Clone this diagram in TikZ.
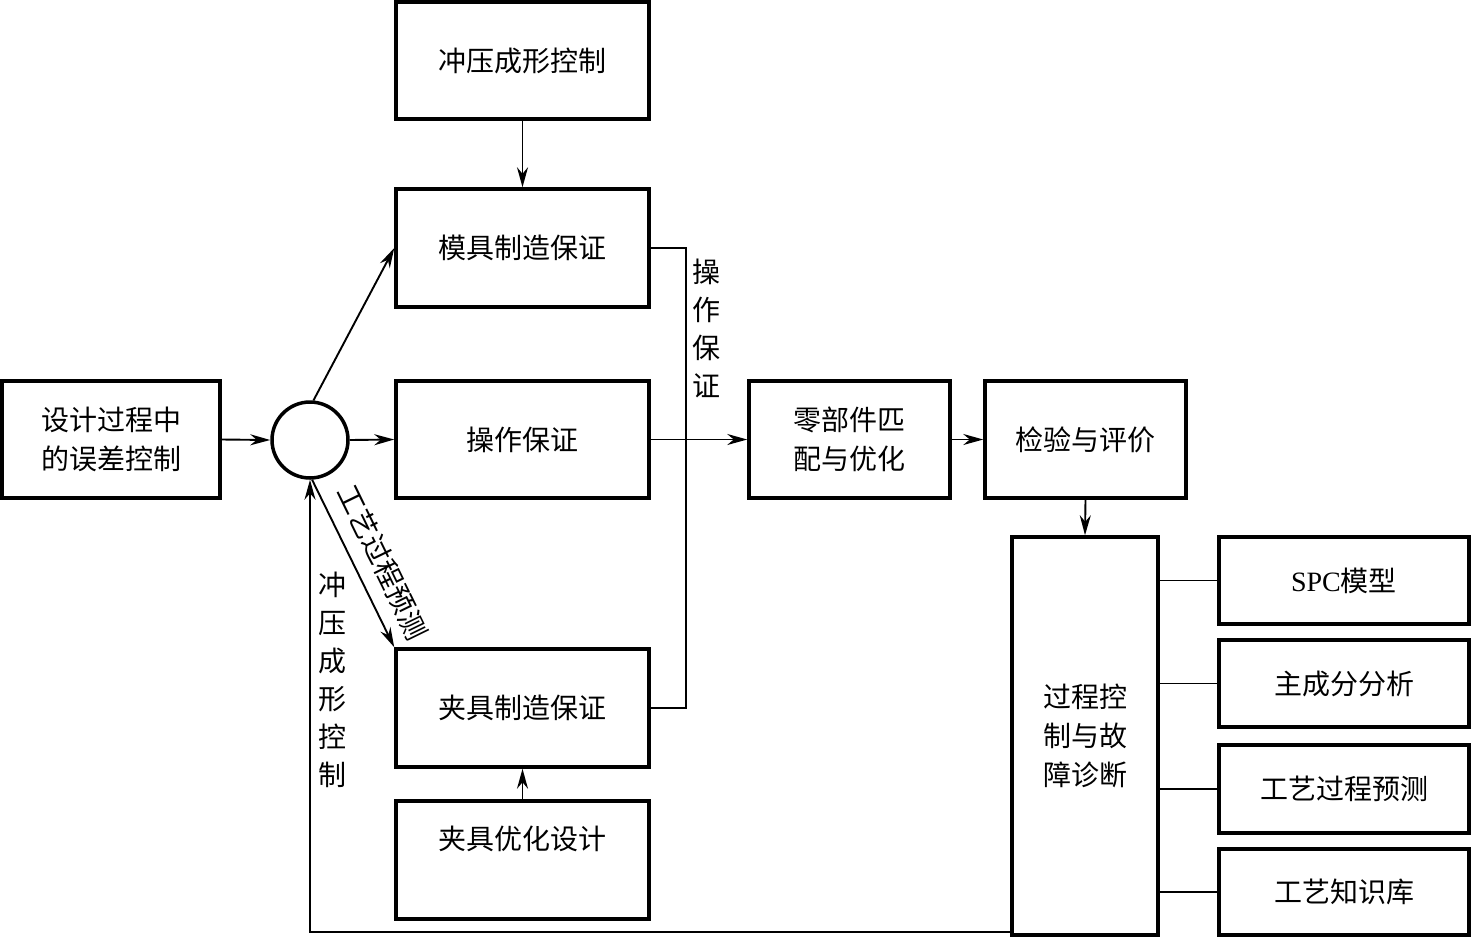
\documentclass[tikz,border=0pt]{standalone}
\usepackage{fontspec}
\setmainfont{Liberation Serif}
\newfontfamily\cjk{Noto Sans CJK SC}
\usetikzlibrary{arrows.meta}
\tikzset{
  box/.style={draw, line width=3.5pt, minimum width=253pt, minimum height=117pt, inner sep=0pt, align=center, font=\cjk\fontsize{28}{39}\selectfont},
  con/.style={line width=1.9pt},
  arr/.style={con, -{Stealth[length=20pt,width=11pt]}},
  lbl/.style={inner sep=0pt, align=center, font=\cjk\fontsize{28}{38}\selectfont},
}
\begin{document}
\begin{tikzpicture}[x=1pt,y=-1pt]
\useasboundingbox (0,0) rectangle (1472,938);
% left column
\node[box] (cy) at (522.5,60.5) {冲压成形控制};
\node[box, minimum height=118pt] (mj) at (522.5,248) {模具制造保证};
\node[box] (cz) at (522.5,439.5) {操作保证};
\node[box, minimum height=118pt] (jj) at (522.5,708) {夹具制造保证};
\node[box, minimum height=118pt] (jy) at (522.5,860) {夹具优化设计\\[5pt]\mbox{}};
\node[box, minimum width=218pt] (sj) at (111,439.5) {设计过程中\\的误差控制};
\node[draw, circle, line width=3.5pt, minimum size=76pt, inner sep=0pt] (circ) at (310,440) {};
% middle
\node[box, minimum width=201pt] (lb) at (849.5,439.5) {零部件匹\\配与优化};
\node[box, minimum width=201pt] (jp) at (1085.5,439.5) {检验与评价};
\node[box, minimum width=146pt, minimum height=398pt] (gc) at (1085,736) {过程控\\制与故\\障诊断};
% right column
\node[box, minimum width=250pt, minimum height=87pt] (spc) at (1344,580.5) {{\rmfamily SPC}模型};
\node[box, minimum width=250pt, minimum height=87pt] (zc) at (1344,683.5) {主成分分析};
\node[box, minimum width=250pt, minimum height=88pt] (gy) at (1344,789) {工艺过程预测};
\node[box, minimum width=250pt, minimum height=86pt] (zs) at (1344,892) {工艺知识库};
% connectors
\draw[arr] (cy.south) -- (mj.north);
\draw[arr] (jy.north) -- (jj.south);
\draw[arr] (sj.east) -- (circ.west);
\draw[arr] (circ.east) -- (cz.west);
\draw[arr] (circ.85) -- (mj.west);
\draw[arr] (circ.-87) -- (jj.north west);
\draw[arr] ([yshift=5pt]gc.south west) -| (circ.south);
\draw[con] (mj.east) -- ++(35,0) |- (jj.east);
\draw[arr] (cz.east) -- (lb.west);
\draw[arr] (lb.east) -- (jp.west);
\draw[arr] (jp.south) -- (gc.north);
\draw[con] (gc.east |- spc.west) -- (spc.west);
\draw[con] (gc.east |- zc.west) -- (zc.west);
\draw[con] (gc.east |- gy.west) -- (gy.west);
\draw[con] (gc.east |- zs.west) -- (zs.west);
% labels
\node[lbl] (l1) at (706,328) {操\\作\\保\\证};
\node[lbl] (l2) at (332,680) {冲\\压\\成\\形\\控\\制};
\node[lbl, rotate=-64] (l3) at (383,562) {工艺过程预测};
\end{tikzpicture}
\end{document}
